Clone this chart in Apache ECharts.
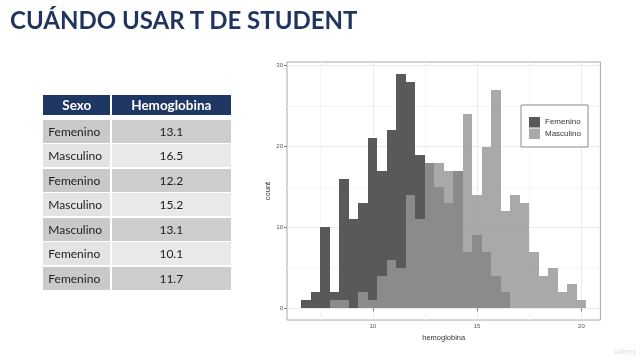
<!DOCTYPE html>
<html>
<head>
<meta charset="utf-8">
<script src="https://cdn.jsdelivr.net/npm/echarts@6/dist/echarts.min.js"></script>
<style>
html,body{margin:0;padding:0;width:640px;height:360px;background:#fff;overflow:hidden;}
#chart{position:absolute;left:0;top:0;width:640px;height:360px;}
#title{position:absolute;left:10px;top:8px;font-family:Lato,'Open Sans',sans-serif;font-size:24px;line-height:24px;font-weight:700;color:#1f345e;white-space:nowrap;z-index:2;}
#tbl{position:absolute;left:43.3px;top:95px;display:grid;grid-template-columns:67px 119px;grid-auto-rows:23px;row-gap:1.5px;column-gap:1.5px;font-family:Lato,'Open Sans',sans-serif;z-index:2;}
#tbl .h{background:#1f3763;color:#fff;font-weight:700;font-size:13.5px;display:flex;align-items:center;justify-content:center;height:20px;}
#tbl .c1,#tbl .c2{font-size:12px;color:#222;display:flex;align-items:center;}
#tbl .c1{padding-left:5px;}
#tbl .c2{justify-content:center;}
#tbl .odd.c1{background:#c9c9ca;} #tbl .odd.c2{background:#cdcdce;}
#tbl .even.c1{background:#e3e3e4;} #tbl .even.c2{background:#e9e9ea;}
#wm{position:absolute;left:614px;top:348px;font-family:'Liberation Sans',sans-serif;font-size:7px;color:#dadada;z-index:2;}
</style>
</head>
<body>
<div id="chart"></div>
<div id="title">CUÁNDO USAR T DE STUDENT</div>
<div id="tbl"></div>
<div id="wm">Udemy</div>
<script>
// ---- data ----
const tableHeader = ['Sexo', 'Hemoglobina'];
const sexo = ['Femenino', 'Masculino', 'Femenino', 'Masculino', 'Masculino', 'Femenino', 'Femenino'];
const hemoglobina = ['13.1', '16.5', '12.2', '15.2', '13.1', '10.1', '11.7'];

// histogram: 30 bins centred from the data minimum to the data maximum
const binMin = 6.8, binMax = 20.0, nBins = 30;
const femenino  = [1, 2, 10, 2, 16, 11, 13, 21, 17, 22, 29, 28, 19, 18, 15, 13, 17, 7, 9, 7, 4, 2, 0, 0, 0, 0, 0, 0, 0, 0];
const masculino = [0, 0, 0, 1, 1, 0, 2, 1, 4, 6, 5, 14, 11, 18, 18, 17, 17, 24, 14, 20, 27, 12, 14, 13, 7, 4, 5, 2, 3, 1];
const seriesNames = ['Femenino', 'Masculino'];
const xTicks = [10, 15, 20];
const yTicks = [0, 10, 20, 30];
const xMinor = [7.5, 12.5, 17.5];
const yMinor = [5, 15, 25];

// ---- table ----
const tbl = document.getElementById('tbl');
tableHeader.forEach(t => { const d = document.createElement('div'); d.className = 'h'; d.textContent = t; tbl.appendChild(d); });
sexo.forEach((s, i) => {
  const cls = i % 2 === 0 ? 'odd' : 'even';
  const a = document.createElement('div'); a.className = 'c1 ' + cls; a.textContent = s; tbl.appendChild(a);
  const b = document.createElement('div'); b.className = 'c2 ' + cls; b.textContent = hemoglobina[i]; tbl.appendChild(b);
});

// ---- histogram ----
const bw = (binMax - binMin) / (nBins - 1);
const lo = binMin - bw / 2, hi = binMax + bw / 2;
const xPad = 0.05 * (hi - lo);
const maxCount = Math.max(...femenino, ...masculino);
const yPad = 0.05 * maxCount;
function toBins(counts) {
  return counts.map((c, i) => [lo + i * bw, lo + (i + 1) * bw, c]);
}
function renderBin(params, api) {
  const c = api.value(2);
  if (!c) return null;
  const p0 = api.coord([api.value(0), c]);
  const p1 = api.coord([api.value(1), 0]);
  const x0 = Math.round(p0[0]), x1 = Math.round(p1[0]);
  const y0 = Math.round(p0[1]), y1 = Math.round(p1[1]);
  return { type: 'rect', shape: { x: x0, y: y0, width: x1 - x0, height: y1 - y0 }, style: api.style() };
}
const FONT = 'Liberation Sans';
const chart = echarts.init(document.getElementById('chart'), null, { renderer: 'canvas' });
chart.setOption({
  animation: false,
  grid: { left: 287, right: 39.6, top: 62, bottom: 40, show: true, borderColor: '#a8a8a8', borderWidth: 1, backgroundColor: '#fff', outerBoundsMode: 'none' },
  legend: {
    data: seriesNames, orient: 'vertical', left: 521, top: 105, icon: 'rect',
    itemWidth: 11, itemHeight: 10.5, itemGap: 1, padding: [12, 7, 8, 8],
    borderColor: '#8a8a8a', borderWidth: 1, backgroundColor: '#fff',
    textStyle: { fontFamily: FONT, fontSize: 8, color: '#333' }
  },
  xAxis: [{
    type: 'value', min: lo - xPad, max: hi + xPad,
    axisLine: { show: false },
    axisTick: { show: true, length: 3, lineStyle: { color: '#777' }, customValues: xTicks },
    axisLabel: { customValues: xTicks, fontFamily: FONT, fontSize: 6, color: '#555', margin: 3 },
    splitLine: { show: true, lineStyle: { color: '#ebebeb', width: 1 } },
    name: 'hemoglobina', nameLocation: 'middle', nameGap: 9,
    nameTextStyle: { fontFamily: FONT, fontSize: 7.5, color: '#333' }
  }, {
    type: 'value', min: lo - xPad, max: hi + xPad, position: 'bottom',
    axisLine: { show: false }, axisLabel: { show: false },
    axisTick: { show: false, customValues: xMinor },
    splitLine: { show: true, lineStyle: { color: '#f4f4f4', width: 1 } }
  }],
  yAxis: [{
    type: 'value', min: -yPad, max: maxCount + yPad,
    axisLine: { show: false },
    axisTick: { show: true, length: 3, lineStyle: { color: '#777' }, customValues: yTicks },
    axisLabel: { customValues: yTicks, fontFamily: FONT, fontSize: 6, color: '#555', margin: 4 },
    splitLine: { show: true, lineStyle: { color: '#ebebeb', width: 1 } },
    name: 'count', nameLocation: 'middle', nameGap: 11, nameRotate: 90,
    nameTextStyle: { fontFamily: FONT, fontSize: 7.5, color: '#333' }
  }, {
    type: 'value', min: -yPad, max: maxCount + yPad, position: 'left',
    axisLine: { show: false }, axisLabel: { show: false },
    axisTick: { show: false, customValues: yMinor },
    splitLine: { show: true, lineStyle: { color: '#f4f4f4', width: 1 } }
  }],
  series: [{
    name: seriesNames[0], type: 'custom', renderItem: renderBin, xAxisIndex: 0, yAxisIndex: 0,
    encode: { x: [0, 1], y: 2 }, data: toBins(femenino),
    itemStyle: { color: '#595959' }, z: 2
  }, {
    name: seriesNames[1], type: 'custom', renderItem: renderBin, xAxisIndex: 0, yAxisIndex: 0,
    encode: { x: [0, 1], y: 2 }, data: toBins(masculino),
    itemStyle: { color: 'rgba(150,150,150,0.82)' }, z: 3
  }]
});
</script>
</body>
</html>
